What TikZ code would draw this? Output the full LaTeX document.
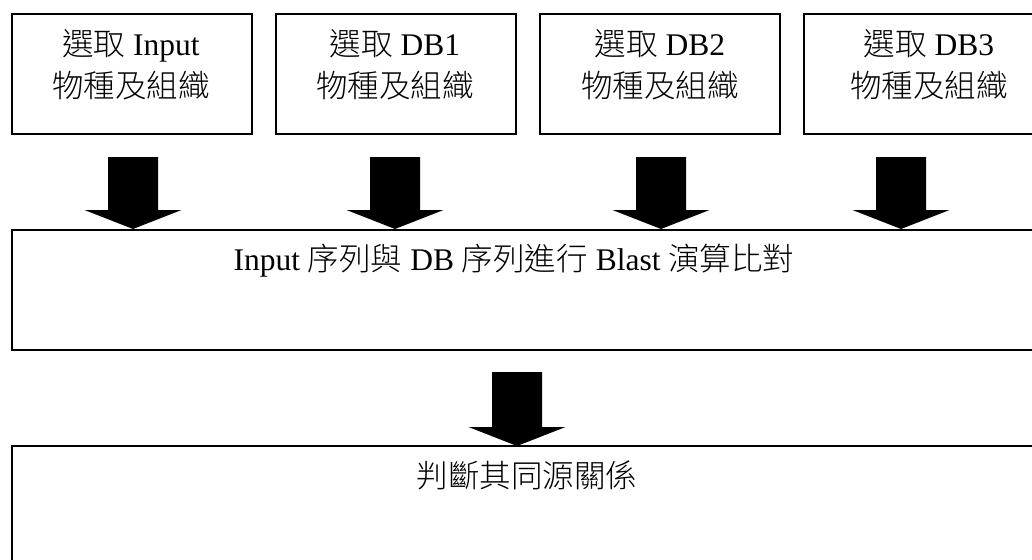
\documentclass[tikz,border=0pt]{standalone}
\usepackage{fontspec}
\setmainfont{Liberation Serif}
\newfontfamily\cjk{Noto Sans CJK TC}[UprightFont=* Light]
\newcommand\myblockarrow[4]{%
  \fill[black] (#1-25,#2) -- (#1+25,#2) -- (#1+25,#3) -- (#1+48.5,#3) -- (#1,#4) -- (#1-48.5,#3) -- (#1-25,#3) -- cycle;}
\begin{document}
\begin{tikzpicture}[x=1pt,y=-1pt,
  box/.style={draw, line width=1.6pt, inner sep=0pt, anchor=north west},
  topbox/.style={box, minimum width=240pt, minimum height=120pt},
  lbl/.style={font=\fontsize{31.5}{42}\selectfont, align=center, inner sep=0pt}]
\useasboundingbox (0,0) rectangle (1032,559);
\clip (0,0) rectangle (1032,559);
\fill[white] (0,0) rectangle (1032,559);
% top boxes
\node[topbox] (b1) at (11,13) {};
\node[topbox] (b2) at (275,13) {};
\node[topbox] (b3) at (539,13) {};
\node[topbox] (b4) at (803,13) {};
\node[lbl] (t1) at (131,65) {{\cjk 選取} Input\\{\cjk 物種及組織}};
\node[lbl] (t2) at (395,65) {{\cjk 選取} DB1\\{\cjk 物種及組織}};
\node[lbl] (t3) at (660,65) {{\cjk 選取} DB2\\{\cjk 物種及組織}};
\node[lbl] (t4) at (929,65) {{\cjk 選取} DB3\\{\cjk 物種及組織}};
% middle and bottom boxes
\node[box, minimum width=1032pt, minimum height=120pt] (mid) at (11,229) {};
\node[box, minimum width=1032pt, minimum height=200pt] (bot) at (11,445) {};
\node[lbl, anchor=base] (tm) at (514,270) {Input {\cjk 序列與} DB {\cjk 序列進行} Blast {\cjk 演算比對}};
\node[lbl, anchor=base] (tb) at (527,487) {\cjk 判斷其同源關係};
% block arrows
\myblockarrow{133}{157}{210}{229}
\myblockarrow{395}{157}{210}{229}
\myblockarrow{661}{157}{210}{229}
\myblockarrow{901}{157}{210}{229}
\myblockarrow{517}{372}{427}{446}
\end{tikzpicture}
\end{document}
